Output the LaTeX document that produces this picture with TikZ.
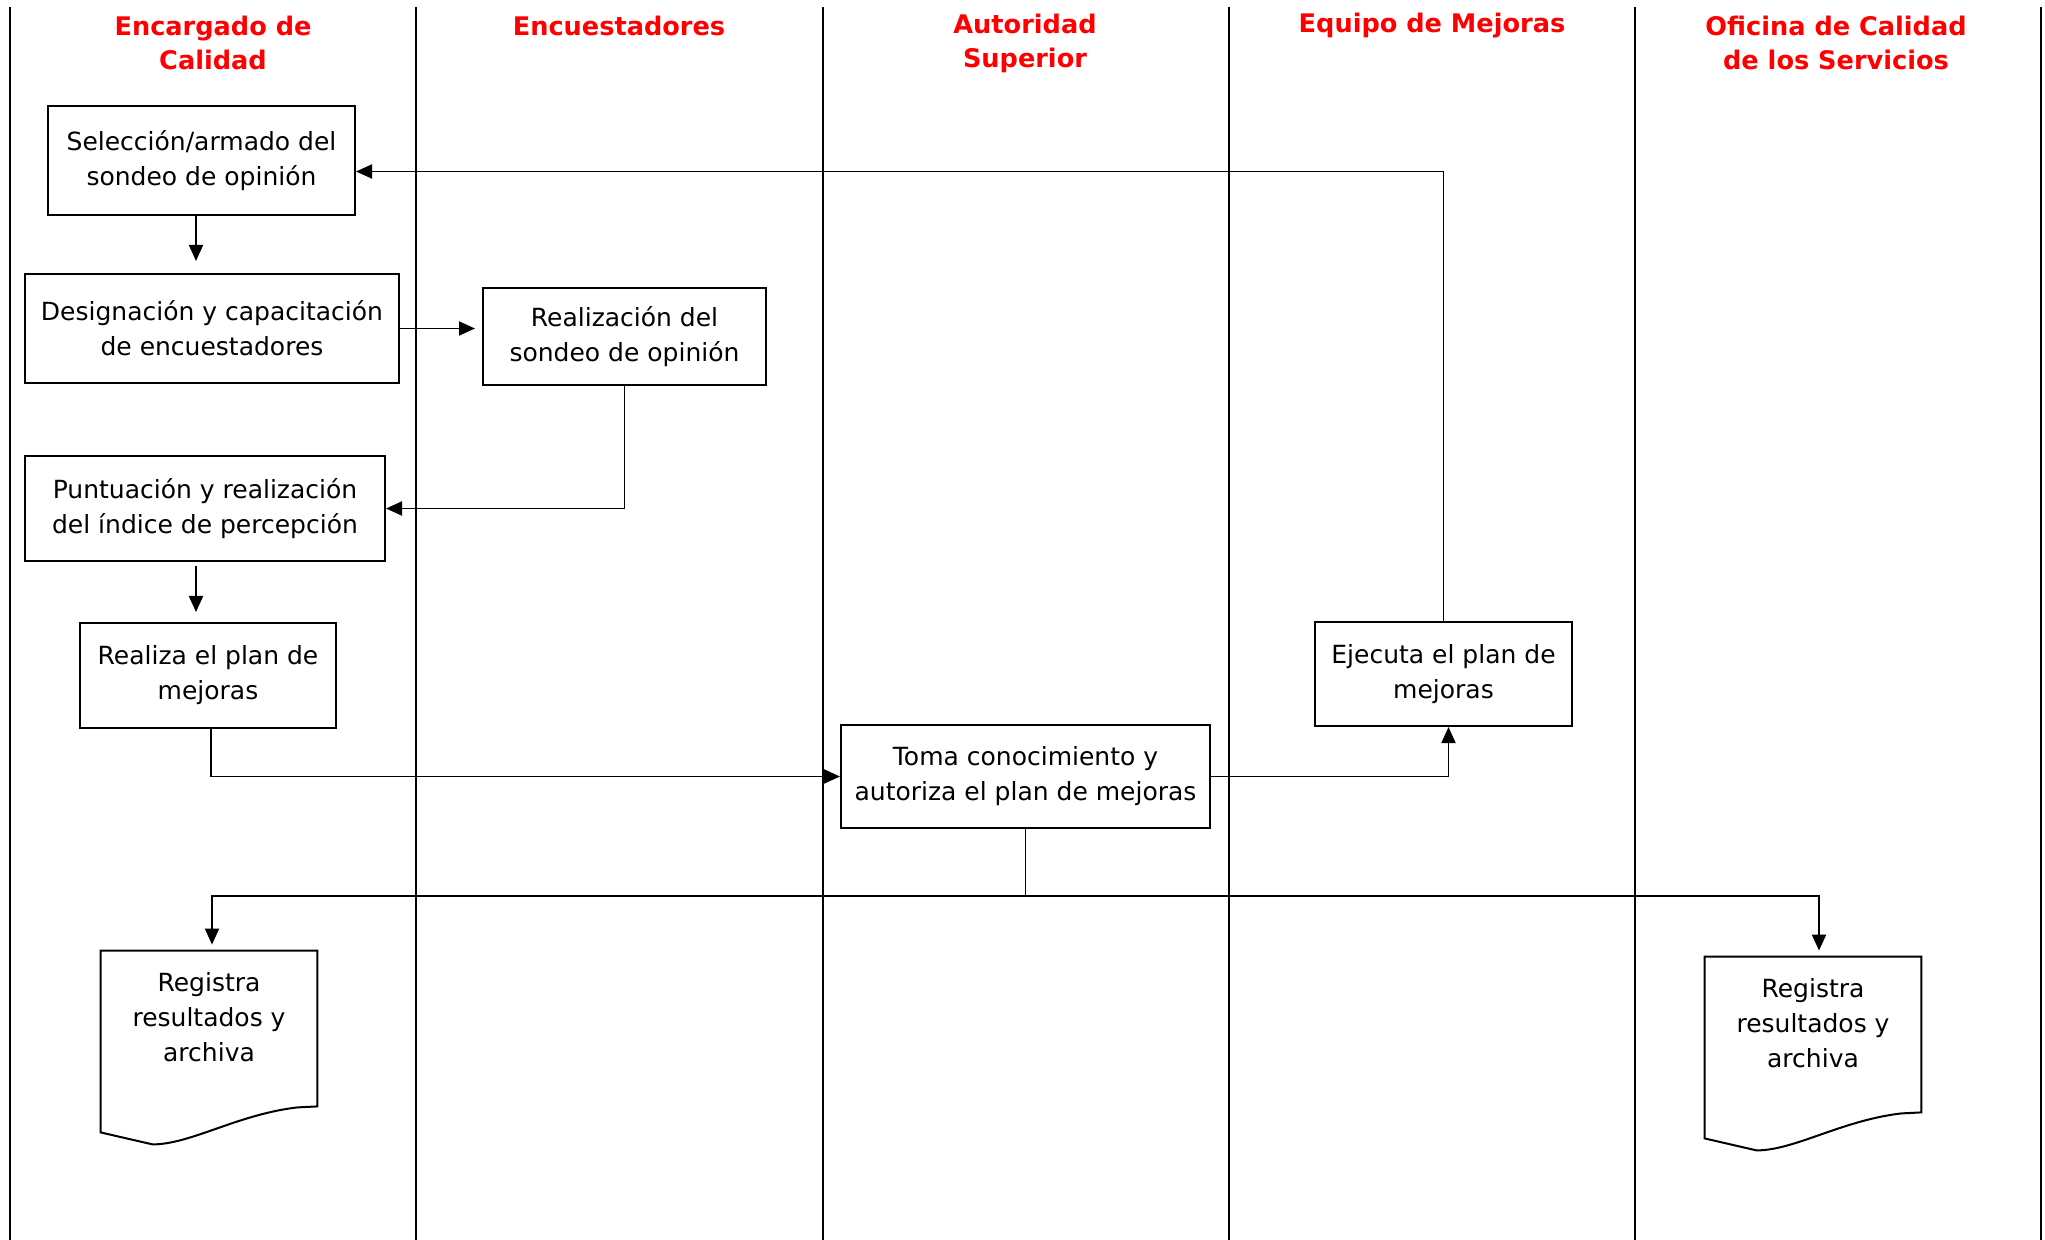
\documentclass[tikz,border=0pt]{standalone}
\usepackage{fontspec}
\setmainfont{DejaVu Sans}
\usetikzlibrary{arrows.meta}

\begin{document}
\begin{tikzpicture}
            [x=0.5pt, y=-0.5pt, font=\fontsize{12.5}{17.5}\selectfont,
            % one unit = one pixel of the 2045 x 1240 sheet, y downwards
            lane/.style={draw=black, line width=1.3pt},
            lanehead/.style={text=red, font=\fontsize{12.8}{17}\selectfont\bfseries, align=center},
            box/.style={draw=black, line width=1pt, align=center, inner sep=0pt},
            doc/.style={align=center, inner sep=0pt, minimum width=108pt, minimum height=66pt},
            flow/.style={draw=black, line width=0.95pt, -{Triangle[length=8pt, width=7pt]}},
            link/.style={draw=black, line width=0.95pt}]
            \useasboundingbox (0,0) rectangle (2045,1240);
            \foreach \x in {10,416,823,1229,1635,2041}
                \draw [lane] (\x,7) -- (\x,1240);
            \node [lanehead] (hcalidad) at (213,43) {Encargado de\\Calidad};
            \node [lanehead] (hencuesta) at (619,26) {Encuestadores};
            \node [lanehead] (hautoridad) at (1025,43) {Autoridad\\Superior};
            \node [lanehead] (hequipo) at (1432,26) {Equipo de Mejoras};
            \node [lanehead] (hoficina) at (1836,43) {Oficina de Calidad\\de los Servicios};
            \node [box, minimum width=153.5pt, minimum height=54.5pt] (seleccion) at (201.5,160.5)
                {Selección/armado del\\sondeo de opinión};
            \node [box, minimum width=187pt, minimum height=54.5pt] (designacion) at (212,328.5)
                {Designación y capacitación\\de encuestadores};
            \node [box, minimum width=141.5pt, minimum height=48.5pt] (realizacion) at (624.5,336.5)
                {Realización del\\sondeo de opinión};
            \node [box, minimum width=180pt, minimum height=52.5pt] (puntuacion) at (205,508.5)
                {Puntuación y realización\\del índice de percepción};
            \node [box, minimum width=128pt, minimum height=52.5pt] (realiza) at (208,675.5)
                {Realiza el plan de\\mejoras};
            \node [box, minimum width=184.5pt, minimum height=51.5pt] (toma) at (1025.5,776.5)
                {Toma conocimiento y\\autoriza el plan de mejoras};
            \node [box, minimum width=128.5pt, minimum height=52pt] (ejecuta) at (1443.5,674)
                {Ejecuta el plan de\\mejoras};
            \node [doc] (registra1) at (209,1017) {Registra\\resultados y\\archiva};
            \node [doc] (registra2) at (1813,1023) {Registra\\resultados y\\archiva};
            \foreach \d in {registra1,registra2}
                \draw [line width=1pt] (\d.north west) -- (\d.north east)
                    -- ([shift={(0,23)}]\d.south east) -- ([shift={(-20,24)}]\d.south east)
                    .. controls ([shift={(-80,31)}]\d.south east) and ([shift={(90,61)}]\d.south west)
                    .. ([shift={(52,61)}]\d.south west) -- ([shift={(0,49)}]\d.south west) -- cycle;
            % connectors
            \draw [flow, shorten >=6pt] ([shift={(-5.5,0)}]seleccion.south)
                -- ([shift={(-5.5,0)}]seleccion.south |- designacion.north);
            \draw [flow, shorten >=3.5pt] (designacion.east) -- (designacion.east -| realizacion.west);
            \draw [flow] (realizacion.south) |- (puntuacion.east);
            \draw [flow, shorten >=5pt] ([shift={(-9,4)}]puntuacion.south)
                -- ([shift={(-9,0)}]puntuacion.south |- realiza.north);
            \draw [flow] ([shift={(3,0)}]realiza.south) |- (toma.west);
            \draw [flow] (toma.east) -| ([shift={(5,0)}]ejecuta.south);
            \draw [flow] (ejecuta.north) |- ([shift={(0,11)}]seleccion.east);
            \coordinate (reparto) at (1025.5,896);
            \draw [link] (toma.south) -- (reparto);
            \draw [flow, shorten >=3pt] (reparto) -| ([shift={(3,0)}]registra1.north);
            \draw [flow, shorten >=3pt] (reparto) -| ([shift={(6,0)}]registra2.north);
            \end{tikzpicture}
\end{document}
